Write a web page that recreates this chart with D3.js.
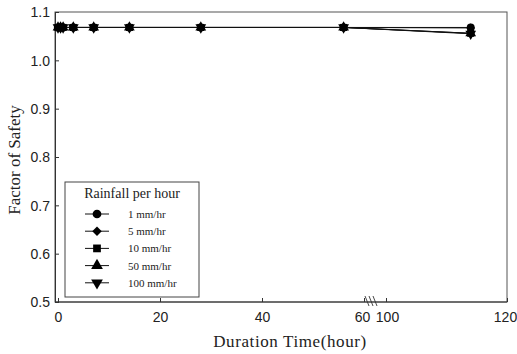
<!DOCTYPE html>
<html lang="en">
<head>
<meta charset="UTF-8">
<title>Factor of Safety vs Duration</title>
<style>
body{margin:0;background:#fff;}
.tick text{font-family:"Liberation Sans",Arial,sans-serif;font-size:14px;fill:#222;}
.serif{font-family:"Liberation Serif","Times New Roman",serif !important;fill:#222;}
</style>
<script src="https://cdn.jsdelivr.net/npm/d3@7"></script>
</head>
<body>
<script>
// durations (hour) and factor of safety for each rainfall intensity
var hours = [0, 0.5, 1, 3, 7, 14, 28, 56, 114];
var fs1   = [1.068,1.068,1.068,1.068,1.068,1.068,1.068,1.068,1.068];
var fs5   = [1.068,1.068,1.068,1.068,1.068,1.068,1.068,1.068,1.067];
var fs10  = [1.068,1.068,1.068,1.068,1.068,1.068,1.068,1.068,1.056];
var fs50  = [1.068,1.068,1.068,1.068,1.068,1.068,1.068,1.068,1.056];
var fs100 = [1.068,1.068,1.068,1.068,1.068,1.068,1.068,1.068,1.055];
var seriesNames = ["1 mm/hr","5 mm/hr","10 mm/hr","50 mm/hr","100 mm/hr"];
var seriesVals = [fs1, fs5, fs10, fs50, fs100];
var yTicks = [0.5,0.6,0.7,0.8,0.9,1.0,1.1];
var xTicksA = [0,20,40,60];
var xTicksB = [100,120];

var W=517, H=354, pL=55, pT=12, pR=507, pB=302;
var svg = d3.select("body").append("svg").attr("width",W).attr("height",H);

var y = d3.scaleLinear().domain([0.5,1.1]).range([pB,pT]);
// broken x axis: two linear pieces
var xa = d3.scaleLinear().domain([0,60]).range([58,364]);
var xb = d3.scaleLinear().domain([100,120]).range([386,507]);
function x(v){ return v<=80 ? xa(v) : xb(v); }

// marker shapes: circle, diamond, square, triangle up, triangle down
function marker(i, size){
	var types = [d3.symbolCircle, d3.symbolSquare, d3.symbolSquare, d3.symbolTriangle, d3.symbolTriangle];
	return d3.symbol().type(types[i]).size(i===1 ? size*0.75 : size)();
}
var rot = [0,45,0,0,180];

// frame
svg.append("rect").attr("x",pL).attr("y",pT).attr("width",pR-pL).attr("height",pB-pT)
	.attr("fill","none").attr("stroke","#555").attr("stroke-width",1);

// y axis
var gy = svg.append("g").attr("transform","translate("+pL+",0)")
	.call(d3.axisRight(y).tickValues(yTicks).tickSize(4).tickFormat(d3.format(".1f")));
gy.select(".domain").attr("stroke","#333");
gy.selectAll(".tick line").attr("stroke","#333");
gy.selectAll(".tick text").attr("x",-5).attr("text-anchor","end").attr("dy","0.35em");

// x axis pieces
function xAxis(sc, ticks){
	var g = svg.append("g").attr("transform","translate(0,"+pB+")")
		.call(d3.axisTop(sc).tickValues(ticks).tickSize(4).tickFormat(d3.format("d")));
	g.select(".domain").remove();
	g.selectAll(".tick line").attr("stroke","#333");
	g.selectAll(".tick text").attr("y",10).attr("dy","0.71em");
	return g;
}
var ga = xAxis(xa, xTicksA);
var gb = xAxis(xb, xTicksB);
ga.selectAll(".tick text").filter(function(d){return d===60;}).attr("dx",-2);
gb.selectAll(".tick text").filter(function(d){return d===100;}).attr("dx",1);
gb.selectAll(".tick text").filter(function(d){return d===120;}).attr("dx",-2);
svg.append("line").attr("x1",pL).attr("x2",pR).attr("y1",pB).attr("y2",pB)
	.attr("stroke","#333");
// break marks
[368,372,376].forEach(function(bx){
	svg.append("line").attr("x1",bx-3).attr("y1",pB-6).attr("x2",bx+1).attr("y2",pB+4)
		.attr("stroke","#333").attr("stroke-width",0.9);
});

// titles
svg.append("text").attr("class","serif").attr("text-anchor","middle").style("font-size","17px")
	.attr("transform","translate(20,160) rotate(-90)").text("Factor of Safety");
svg.append("text").attr("class","serif").attr("text-anchor","middle").style("font-size","17px")
	.attr("letter-spacing",0.6).attr("x",290).attr("y",347).text("Duration Time(hour)");

// series; 10 mm/hr (squares) drawn last so they sit on top as in the figure
var line = d3.line().x(function(d){return x(d[0]);}).y(function(d){return y(d[1]);});
[0,1,3,4,2].forEach(function(i){
	var vals = seriesVals[i];
	var pts = hours.map(function(h,j){return [h, vals[j]];});
	var g = svg.append("g");
	g.append("path").datum(pts).attr("d",line).attr("fill","none").attr("stroke","#111").attr("stroke-width",1);
	g.selectAll("path.m").data(pts).enter().append("path").attr("class","m")
		.attr("d",marker(i,50))
		.attr("transform",function(d){return "translate("+x(d[0])+","+y(d[1])+") rotate("+rot[i]+")";})
		.attr("fill","#000");
});

// legend
var leg = svg.append("g");
leg.append("rect").attr("x",65).attr("y",182).attr("width",134).attr("height",115)
	.attr("fill","#fff").attr("stroke","#444").attr("stroke-width",1);
leg.append("text").attr("class","serif").attr("x",132).attr("y",198).attr("text-anchor","middle")
	.style("font-size","14px").text("Rainfall per hour");
seriesNames.forEach(function(n,i){
	var cy = 214 + i*17.2;
	leg.append("line").attr("x1",85).attr("x2",109).attr("y1",cy).attr("y2",cy).attr("stroke","#111");
	leg.append("path").attr("d",marker(i,60))
		.attr("transform","translate(97,"+cy+") rotate("+rot[i]+")").attr("fill","#000");
	leg.append("text").attr("class","serif").attr("x",128).attr("y",cy+4).style("font-size","11px").text(n);
});
</script>
</body>
</html>
